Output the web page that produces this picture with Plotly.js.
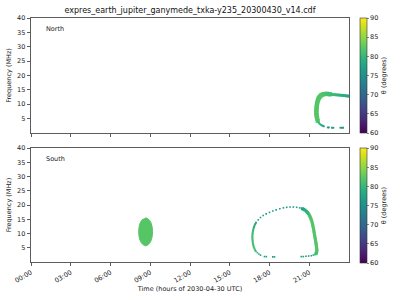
<!DOCTYPE html>
<html>
<head>
<meta charset="utf-8">
<script src="https://cdn.plot.ly/plotly-3.0.1.min.js"></script>
<style>html,body{margin:0;padding:0;background:#fff;}#plot{width:400px;height:300px;}</style>
</head>
<body>
<div id="plot"></div>
<script>
// ---- data (hours UTC, frequency MHz, theta degrees) ----
const tickHours = [0, 3, 6, 9, 12, 15, 18, 21];
const tickLabels = ["00:00", "03:00", "06:00", "09:00", "12:00", "15:00", "18:00", "21:00"];
const freqTicks = [5, 10, 15, 20, 25, 30, 35, 40];
const thetaTicks = [60, 65, 70, 75, 80, 85, 90];

// North: thick left/top arc
const northArcT = [21.64, 21.6, 21.57, 21.55, 21.54, 21.54, 21.54, 21.55, 21.56, 21.58, 21.6, 21.63, 21.67, 21.72, 21.78, 21.85, 21.93, 22.02, 22.12, 22.22, 22.34, 22.46, 22.58];
const northArcF = [4.2, 5.0, 5.6, 6.2, 6.8, 7.4, 8.0, 8.6, 9.2, 9.8, 10.4, 11.0, 11.6, 12.1, 12.5, 12.9, 13.2, 13.4, 13.5, 13.6, 13.6, 13.5, 13.45];
const northArcTh = [82, 82, 82, 82, 82, 82, 82, 82, 82, 82, 82, 82, 82, 82, 82, 82, 82, 82, 82, 81.5, 81.5, 81, 81];
// North: thinner right part of arc
const northTailT = [22.7, 22.82, 22.94, 23.06, 23.18, 23.3, 23.42, 23.54, 23.66, 23.78, 23.9, 23.99];
const northTailF = [13.4, 13.35, 13.3, 13.25, 13.2, 13.15, 13.1, 13.05, 13.0, 12.9, 12.85, 12.8];
const northTailTh = [80.5, 80.5, 80, 80, 79.5, 79.5, 79, 79, 78.5, 78.5, 78, 78];
// North: lower tip and dashes
const northTipT = [21.68, 21.72, 21.77, 21.83, 21.89, 21.95, 22.02, 22.1, 22.4, 22.48, 22.72, 22.82, 23.35, 23.45, 23.55];
const northTipF = [3.9, 3.5, 3.2, 3.0, 2.8, 2.6, 2.5, 2.3, 1.9, 1.9, 1.8, 1.8, 1.8, 1.8, 1.8];
const northTipTh = [81, 80.5, 80, 79.5, 79, 78, 77, 76, 75.5, 75.5, 75.5, 75.5, 75.5, 75.5, 75.5];

// South: filled oval around 09:00
const ovalT = [8.65, 8.85, 9.02, 9.13, 9.17, 9.13, 9.02, 8.85, 8.65, 8.45, 8.28, 8.17, 8.13, 8.17, 8.28, 8.45];
const ovalF = [15.5, 15.1, 14.1, 12.6, 10.6, 8.6, 7.1, 6.1, 5.7, 6.1, 7.1, 8.6, 10.6, 12.6, 14.1, 15.1];
const ovalTheta = 82;

// South: loop, left side (thin)
const loopLeftT = [16.96, 16.9, 16.85, 16.81, 16.78, 16.76, 16.74, 16.73, 16.72, 16.71, 16.71, 16.71, 16.72, 16.73, 16.75, 16.77, 16.8, 16.83, 16.87, 16.92, 16.98];
const loopLeftF = [3.8, 4.3, 4.8, 5.3, 5.8, 6.3, 6.8, 7.3, 7.8, 8.3, 8.8, 9.3, 9.8, 10.3, 10.8, 11.3, 11.8, 12.3, 12.8, 13.3, 13.8];
const loopLeftTh = [81, 81, 81, 81, 81, 81, 81, 81, 81, 81, 81, 81, 81, 80.5, 80.5, 80, 80, 79.5, 79, 78.5, 78];
// South: loop, upper arc (dotted)
const loopTopT = [17.15, 17.32, 17.52, 17.75, 18.0, 18.25, 18.5, 18.78, 19.05, 19.3, 19.55, 19.8, 20.05, 20.28];
const loopTopF = [14.8, 15.6, 16.3, 16.9, 17.4, 17.9, 18.3, 18.7, 19.0, 19.2, 19.3, 19.3, 19.2, 19.0];
const loopTopTh = [77, 76.5, 76.5, 76, 76, 76, 76, 75.5, 75.5, 75.5, 75.5, 75.5, 76, 77];
// South: loop, right side (thick)
const loopRightT = [20.48, 20.58, 20.68, 20.78, 20.86, 20.93, 21.0, 21.05, 21.1, 21.14, 21.18, 21.21, 21.24, 21.27, 21.29, 21.32, 21.34, 21.36, 21.38, 21.4, 21.42, 21.44, 21.46, 21.48, 21.5, 21.52, 21.53, 21.55, 21.56, 21.57, 21.57, 21.56, 21.54, 21.5];
const loopRightF = [18.7, 18.5, 18.2, 17.8, 17.4, 17.0, 16.5, 16.0, 15.5, 15.0, 14.5, 14.0, 13.4, 12.8, 12.3, 11.7, 11.2, 10.6, 10.1, 9.5, 9.0, 8.4, 7.9, 7.3, 6.8, 6.3, 5.8, 5.3, 4.9, 4.4, 4.0, 3.6, 3.2, 2.9];
const loopRightTh = [77.5, 78, 78.5, 79, 79.5, 80, 80.5, 81, 81.5, 82, 82, 82, 82, 82, 82, 82, 82, 82, 82, 82, 82, 82, 82, 82, 82, 82, 82, 82, 82, 82, 82, 82, 81.5, 81];
// South: loop, bottom pieces
const loopBotT = [21.4, 21.3, 21.15, 20.95, 20.75, 20.55, 20.4, 17.08, 17.2, 17.32, 17.62, 17.76, 18.25, 18.38];
const loopBotF = [2.6, 2.4, 2.2, 2.1, 2.0, 1.9, 1.9, 3.3, 2.8, 2.4, 1.9, 1.9, 1.8, 1.8];
const loopBotTh = [80.5, 80, 78, 77, 76, 76, 76, 79, 78, 77, 76, 76, 76, 76];

// ---- viridis helper for the oval fill ----
const vir = [[0,"#440154"],[0.1,"#482475"],[0.2,"#414487"],[0.3,"#355f8d"],[0.4,"#2a788e"],[0.5,"#21918c"],[0.6,"#22a884"],[0.7,"#44bf70"],[0.8,"#7ad151"],[0.9,"#bddf26"],[1,"#fde725"]];
function hex2rgb(h){return [parseInt(h.slice(1,3),16),parseInt(h.slice(3,5),16),parseInt(h.slice(5,7),16)];}
function viridisAt(v){
  const u = Math.max(0, Math.min(1, (v - 60) / 30));
  for (let i = 1; i < vir.length; i++) {
    if (u <= vir[i][0]) {
      const a = vir[i-1], b = vir[i];
      const k = (u - a[0]) / (b[0] - a[0]);
      const ca = hex2rgb(a[1]), cb = hex2rgb(b[1]);
      return "rgb(" + ca.map((c, j) => Math.round(c + (cb[j] - c) * k)).join(",") + ")";
    }
  }
  return vir[vir.length-1][1];
}

function pts(t, f, th, size, xa, ya, ca) {
  return {type: "scatter", mode: "markers", x: t, y: f, xaxis: xa, yaxis: ya,
    marker: {color: th, coloraxis: ca, size: size, symbol: "square", line: {width: 0}},
    hoverinfo: "x+y", showlegend: false};
}

const traces = [
  pts(northArcT, northArcF, northArcTh, 4.2, "x", "y", "coloraxis"),
  pts(northTailT, northTailF, northTailTh, 2.8, "x", "y", "coloraxis"),
  pts(northTipT, northTipF, northTipTh, 1.8, "x", "y", "coloraxis"),
  {type: "scatter", mode: "lines", x: ovalT, y: ovalF, xaxis: "x2", yaxis: "y2", fill: "toself",
    fillcolor: viridisAt(ovalTheta), line: {color: viridisAt(ovalTheta), width: 1, shape: "spline"},
    showlegend: false, hoverinfo: "skip"},
  pts(loopLeftT, loopLeftF, loopLeftTh, 2, "x2", "y2", "coloraxis2"),
  pts(loopTopT, loopTopF, loopTopTh, 1.6, "x2", "y2", "coloraxis2"),
  pts(loopRightT, loopRightF, loopRightTh, 3, "x2", "y2", "coloraxis2"),
  pts(loopBotT, loopBotF, loopBotTh, 1.6, "x2", "y2", "coloraxis2")
];

const fontFam = "DejaVu Sans, sans-serif";
const axCommon = {
  showline: true, mirror: true, linecolor: "#333", linewidth: 0.8,
  ticks: "outside", ticklen: 3.5, tickwidth: 0.8, tickcolor: "#333",
  showgrid: false, zeroline: false, tickfont: {size: 6.5, family: fontFam, color: "#222"}
};
function cbar(y) {
  return {x: 1.031, xanchor: "left", xpad: 0, ypad: 0, y: y, yanchor: "top", len: 0.471, lenmode: "fraction",
    thickness: 7, outlinewidth: 0.6, outlinecolor: "#333",
    tickvals: thetaTicks, ticks: "outside", ticklen: 2, tickwidth: 0.6, tickcolor: "#333",
    tickfont: {size: 6.5, family: fontFam, color: "#222"},
    title: {text: "θ (degrees)", side: "right", font: {size: 6.5, family: fontFam, color: "#222"}}};
}

const layout = {
  width: 400, height: 300,
  margin: {l: 31, r: 50, t: 18, b: 38},
  paper_bgcolor: "#fff", plot_bgcolor: "#fff",
  font: {family: fontFam, size: 6.5, color: "#222"},
  title: {text: "expres_earth_jupiter_ganymede_txka-y235_20300430_v14.cdf",
    font: {size: 8, family: fontFam, color: "#111"}, x: 0.5, xref: "paper", y: 0.967, yref: "container", yanchor: "middle"},
  xaxis: Object.assign({}, axCommon, {domain: [0, 1], anchor: "y", range: [0, 24], tickvals: tickHours, showticklabels: false, matches: "x2"}),
  yaxis: Object.assign({}, axCommon, {domain: [0.529, 1], anchor: "x", range: [0, 40], tickvals: freqTicks,
    title: {text: "Frequency (MHz)", font: {size: 6.5, family: fontFam}, standoff: 4}}),
  xaxis2: Object.assign({}, axCommon, {domain: [0, 1], anchor: "y2", range: [0, 24], tickvals: tickHours, ticktext: tickLabels, tickangle: -30,
    title: {text: "Time (hours of 2030-04-30 UTC)", font: {size: 6.5, family: fontFam}, standoff: 2}}),
  yaxis2: Object.assign({}, axCommon, {domain: [0, 0.467], anchor: "x2", range: [0, 40], tickvals: freqTicks,
    title: {text: "Frequency (MHz)", font: {size: 6.5, family: fontFam}, standoff: 4}}),
  coloraxis: {colorscale: "Viridis", cmin: 60, cmax: 90, colorbar: cbar(1)},
  coloraxis2: {colorscale: "Viridis", cmin: 60, cmax: 90, colorbar: cbar(0.467)},
  annotations: [
    {text: "North", xref: "x domain", yref: "y domain", x: 0.04, y: 0.9, xanchor: "left", yanchor: "middle", showarrow: false, font: {size: 6.5, family: fontFam, color: "#222"}},
    {text: "South", xref: "x2 domain", yref: "y2 domain", x: 0.04, y: 0.9, xanchor: "left", yanchor: "middle", showarrow: false, font: {size: 6.5, family: fontFam, color: "#222"}}
  ]
};

Plotly.newPlot("plot", traces, layout, {displayModeBar: false, staticPlot: true});
</script>
</body>
</html>
